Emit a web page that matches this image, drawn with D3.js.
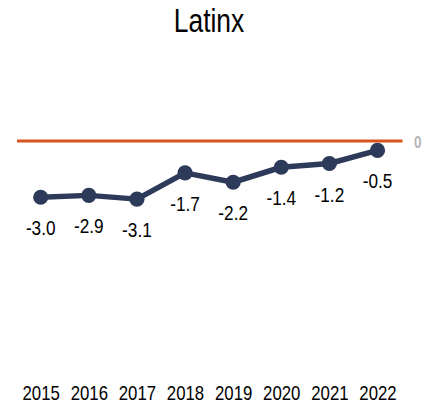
<!DOCTYPE html>
<html><head><meta charset="utf-8">
<script src="https://cdn.jsdelivr.net/npm/d3@7"></script>
<style>
html,body{margin:0;padding:0;background:#fff;}
text{font-family:"Liberation Sans",Arial,sans-serif;}
</style></head>
<body>
<svg id="c" width="424" height="404"></svg>
<script>
const title = "Latinx";
const years = ["2015","2016","2017","2018","2019","2020","2021","2022"];
const values = [-3.0,-2.9,-3.1,-1.7,-2.2,-1.4,-1.2,-0.5];
const refValue = 0;
const refLabel = "0";

const svg = d3.select("#c");
const x = d3.scalePoint().domain(years).range([40.7, 377.5]);
const y = d3.scaleLinear().domain([-4, 0]).range([141 + 4*18.75, 141]);
const narrow = 0.84;

svg.append("g").attr("transform","translate(209,32) scale(0.8,1)")
  .append("text").attr("text-anchor","middle")
  .attr("font-size", 33).attr("fill","#000").text(title);

svg.append("line").attr("x1",17).attr("x2",402.5).attr("y1",y(refValue)).attr("y2",y(refValue))
  .attr("stroke","#d9541e").attr("stroke-width",3);
svg.append("g").attr("transform",`translate(414,${y(refValue)+7}) scale(${narrow},1)`)
  .append("text").attr("font-size",16).attr("font-weight","bold")
  .attr("fill","#b4b4b4").text(refLabel);

const line = d3.line().x((d,i)=>x(years[i])).y(d=>y(d));
svg.append("path").datum(values).attr("d",line).attr("fill","none")
  .attr("stroke","#2d3a5a").attr("stroke-width",5.5).attr("stroke-linejoin","round");
svg.selectAll("circle.p").data(values).join("circle").attr("class","p")
  .attr("cx",(d,i)=>x(years[i])).attr("cy",d=>y(d)).attr("r",7.6).attr("fill","#2d3a5a");
svg.selectAll("g.v").data(values).join("g").attr("class","v")
  .attr("transform",(d,i)=>`translate(${x(years[i])},${y(d)+38}) scale(${narrow},1)`)
  .append("text").attr("text-anchor","middle")
  .attr("font-size",20.5).attr("fill","#000").text(d=>d.toFixed(1));

const xAxis = svg.append("g").attr("transform","translate(0,400)")
  .call(d3.axisBottom(x).tickSize(0).tickPadding(0));
xAxis.select(".domain").remove();
xAxis.selectAll("text").attr("font-size",20).attr("fill","#000").attr("dy",0).attr("y",0)
  .attr("transform",`scale(${narrow},1)`)
  .style("font-family",'"Liberation Sans",Arial,sans-serif');
</script>
</body></html>
